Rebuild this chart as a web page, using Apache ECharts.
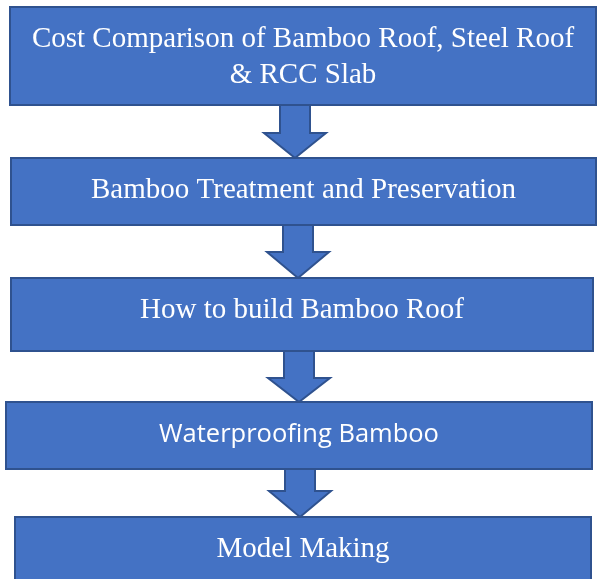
<!DOCTYPE html>
<html>
<head>
<meta charset="utf-8">
<script src="https://cdn.jsdelivr.net/npm/echarts@6/dist/echarts.min.js"></script>
<style>html,body{margin:0;padding:0;background:#fff;}#c{width:597px;height:579px;}</style>
</head>
<body>
<div id="c"></div>
<script>
// Flowchart steps (text content)
var steps = [
  'Cost Comparison of Bamboo Roof, Steel Roof\n& RCC Slab',
  'Bamboo Treatment and Preservation',
  'How to build Bamboo Roof',
  'Waterproofing Bamboo',
  'Model Making'
];
var stepFonts = ['serif', 'serif', 'serif', 'sans', 'serif'];

// Layout (positions / sizes)
var boxes = [
  {x: 10, y: 7, w: 586, h: 98, ty: 57},
  {x: 11, y: 158, w: 585, h: 67, ty: 190},
  {x: 11, y: 278, w: 582, h: 73, ty: 310},
  {x: 6, y: 402, w: 586, h: 67, ty: 435},
  {x: 15, y: 517, w: 576, h: 72, ty: 549}
];
var arrows = [
  {cx: 295, y0: 105, y1: 133, y2: 158},
  {cx: 298, y0: 225, y1: 252, y2: 278},
  {cx: 299, y0: 351, y1: 378, y2: 402},
  {cx: 300, y0: 469, y1: 491, y2: 517}
];

var FILL = '#4472C4', STROKE = '#2F528F';
var chart = echarts.init(document.getElementById('c'), null, {renderer: 'canvas'});
var els = [];
arrows.forEach(function (a) {
  var sw = 15, hw = 31;
  els.push({
    type: 'polygon',
    shape: {points: [[a.cx - sw, a.y0], [a.cx + sw, a.y0], [a.cx + sw, a.y1], [a.cx + hw, a.y1], [a.cx, a.y2], [a.cx - hw, a.y1], [a.cx - sw, a.y1]]},
    style: {fill: FILL, stroke: STROKE, lineWidth: 2}
  });
});
boxes.forEach(function (b, i) {
  var serif = stepFonts[i] === 'serif';
  els.push({
    type: 'rect',
    shape: {x: b.x, y: b.y, width: b.w, height: b.h},
    style: {fill: FILL, stroke: STROKE, lineWidth: 2}
  });
  els.push({
    type: 'text',
    x: b.x + b.w / 2,
    y: b.ty,
    style: {
      text: steps[i],
      fill: '#ffffff',
      font: serif ? '29px "Liberation Serif", serif' : '25.5px "Open Sans", sans-serif',
      align: 'center',
      verticalAlign: 'middle',
      lineHeight: 36
    }
  });
});
chart.setOption({animation: false, graphic: {elements: els}});
</script>
</body>
</html>
